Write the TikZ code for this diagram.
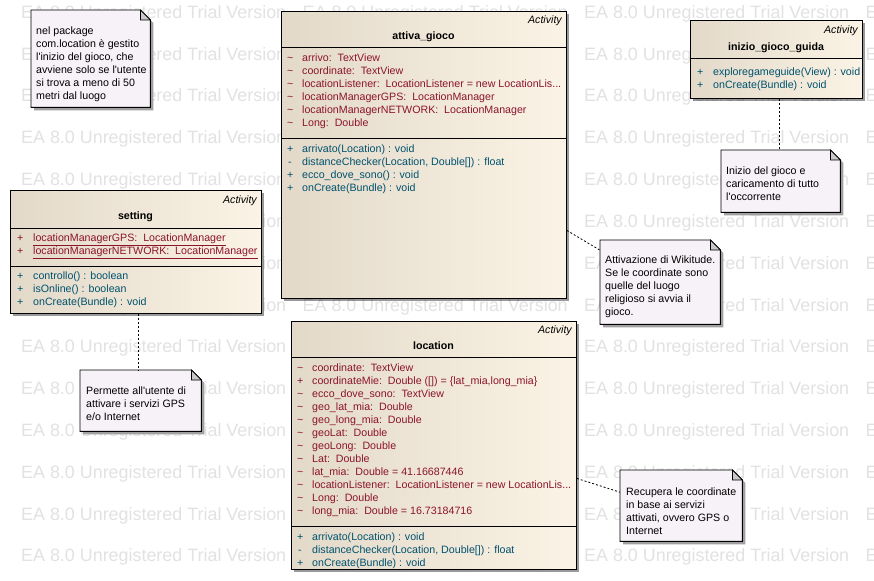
\documentclass[tikz,border=0pt]{standalone}
\usepackage{fontspec}
\newfontfamily\eaf{Liberation Sans}
\newcommand\eafont{\eaf\fontsize{10.65}{13}\selectfont}
\newcommand\wmfont{\eaf\fontsize{17.9}{20}\selectfont}
\usetikzlibrary{shadows}
\definecolor{clsL}{RGB}{226,217,201}
\definecolor{clsR}{RGB}{251,243,229}
\definecolor{attrc}{RGB}{140,20,45}
\definecolor{methc}{RGB}{0,82,110}
\definecolor{notec}{RGB}{247,242,247}
\definecolor{foldc}{RGB}{200,200,200}
\definecolor{shadc}{RGB}{160,160,160}
\definecolor{wmc}{RGB}{226,226,226}
\newcommand\clsline[7]{%
  \node[#2] (#1p) at (#3,#5) {#6};
  \node[#2] (#1) at (#4,#5) {#7};}
\newcommand\drawnote[1]{%
  \fill[shadc] ([shift={(3pt,-3pt)}]#1.north west) -- ([shift={(-7pt,-3pt)}]#1.north east) -- ([shift={(3pt,-13pt)}]#1.north east) -- ([shift={(3pt,-3pt)}]#1.south east) -- ([shift={(3pt,-3pt)}]#1.south west) -- cycle;
  \draw[line width=0.9pt, fill=notec] (#1.north west) -- ([xshift=-10pt]#1.north east) -- ([yshift=-10pt]#1.north east) -- (#1.south east) -- (#1.south west) -- cycle;
  \draw[line width=0.7pt, fill=foldc] ([xshift=-10pt]#1.north east) -- ([yshift=-10pt]#1.north east) -- ([shift={(-10pt,-10pt)}]#1.north east) -- cycle;}
\begin{document}
\begin{tikzpicture}[x=1pt, y=-1pt,
  clsbox/.style={draw=black, line width=0.9pt, left color=clsL, right color=clsR, anchor=north west, inner sep=0, drop shadow={shadow xshift=3pt, shadow yshift=-3pt, fill=black, opacity=0.4}},
  notebg/.style={anchor=north west, inner sep=0},
  notetxt/.style={anchor=north west, inner sep=0, align=left, font=\eafont, text=black},
  attr/.style={inner sep=0, anchor=base west, font=\eafont, text=attrc},
  meth/.style={inner sep=0, anchor=base west, font=\eafont, text=methc},
  stereo/.style={inner sep=0, anchor=base east, font=\eafont\itshape, text=black},
  ttl/.style={inner sep=0, anchor=base, font=\eafont\bfseries, text=black},
  sepline/.style={line width=0.9pt, draw=black},
  conn/.style={line width=0.8pt, dash pattern=on 2pt off 2pt},
  wm/.style={inner sep=0, anchor=base west, font=\wmfont, text=wmc}]
\useasboundingbox (0,0) rectangle (874,580);
\fill[white] (0,0) rectangle (874,580);
\begin{scope}
\clip (0,0) rectangle (874,580);
\foreach \r in {0,...,13}{\foreach \c in {0,...,3}{
  \node[wm] (wm-\r-\c) at ({21+281.5*\c},{18.4+41.8*\r}) {EA 8.0 Unregistered Trial Version};}}
\end{scope}

% ---------- attiva_gioco ----------
\node[clsbox, minimum width=285pt, minimum height=287pt] (attiva) at (281,11) {};
\node[stereo] (attivaS) at (562,23.5) {Activity};
\node[ttl] (attivaT) at (423.5,39.5) {attiva\_gioco};
\draw[sepline] (attiva.west |- 0,47) -- (attiva.east |- 0,47);
\draw[sepline] (attiva.west |- 0,138) -- (attiva.east |- 0,138);
\clsline{aa1}{attr}{287}{302}{61.5}{\textasciitilde}{arrivo:\ \ TextView}
\clsline{aa2}{attr}{287}{302}{74.5}{\textasciitilde}{coordinate:\ \ TextView}
\clsline{aa3}{attr}{287}{302}{87.5}{\textasciitilde}{locationListener:\ \ LocationListener = new LocationLis...}
\clsline{aa4}{attr}{287}{302}{100.5}{\textasciitilde}{locationManagerGPS:\ \ LocationManager}
\clsline{aa5}{attr}{287}{302}{113.5}{\textasciitilde}{locationManagerNETWORK:\ \ LocationManager}
\clsline{aa6}{attr}{287}{302}{126.5}{\textasciitilde}{Long:\ \ Double}
\clsline{am1}{meth}{287}{302}{152.5}{+}{arrivato(Location) : void}
\clsline{am2}{meth}{288}{302}{165.5}{-}{distanceChecker(Location, Double[]) : float}
\clsline{am3}{meth}{287}{302}{178.5}{+}{ecco\_dove\_sono() : void}
\clsline{am4}{meth}{287}{302}{191.5}{+}{onCreate(Bundle) : void}

% ---------- location ----------
\node[clsbox, minimum width=285pt, minimum height=248pt] (loc) at (291,321) {};
\node[stereo] (locS) at (572,333.5) {Activity};
\node[ttl] (locT) at (433.5,349.5) {location};
\draw[sepline] (loc.west |- 0,357) -- (loc.east |- 0,357);
\draw[sepline] (loc.west |- 0,526) -- (loc.east |- 0,526);
\clsline{la1}{attr}{297}{312}{371.5}{\textasciitilde}{coordinate:\ \ TextView}
\clsline{la2}{attr}{297}{312}{384.5}{+}{coordinateMie:\ \ Double ([]) = \{lat\_mia,long\_mia\}}
\clsline{la3}{attr}{297}{312}{397.5}{\textasciitilde}{ecco\_dove\_sono:\ \ TextView}
\clsline{la4}{attr}{297}{312}{410.5}{\textasciitilde}{geo\_lat\_mia:\ \ Double}
\clsline{la5}{attr}{297}{312}{423.5}{\textasciitilde}{geo\_long\_mia:\ \ Double}
\clsline{la6}{attr}{297}{312}{436.5}{\textasciitilde}{geoLat:\ \ Double}
\clsline{la7}{attr}{297}{312}{449.5}{\textasciitilde}{geoLong:\ \ Double}
\clsline{la8}{attr}{297}{312}{462.5}{\textasciitilde}{Lat:\ \ Double}
\clsline{la9}{attr}{297}{312}{475.5}{\textasciitilde}{lat\_mia:\ \ Double = 41.16687446}
\clsline{la10}{attr}{297}{312}{488.5}{\textasciitilde}{locationListener:\ \ LocationListener = new LocationLis...}
\clsline{la11}{attr}{297}{312}{501.5}{\textasciitilde}{Long:\ \ Double}
\clsline{la12}{attr}{297}{312}{514.5}{\textasciitilde}{long\_mia:\ \ Double = 16.73184716}
\clsline{lm1}{meth}{297}{312}{540.5}{+}{arrivato(Location) : void}
\clsline{lm2}{meth}{298}{312}{553.5}{-}{distanceChecker(Location, Double[]) : float}
\clsline{lm3}{meth}{297}{312}{566.5}{+}{onCreate(Bundle) : void}

% ---------- setting ----------
\node[clsbox, minimum width=251pt, minimum height=123pt] (set) at (10,190) {};
\node[stereo] (setS) at (257,203.5) {Activity};
\node[ttl] (setT) at (135.5,219.5) {setting};
\draw[sepline] (set.west |- 0,228) -- (set.east |- 0,228);
\draw[sepline] (set.west |- 0,266) -- (set.east |- 0,266);
\clsline{sa1}{attr}{17}{33}{241.5}{+}{\underline{locationManagerGPS:\ \ LocationManager}}
\clsline{sa2}{attr}{17}{33}{254.5}{+}{\underline{locationManagerNETWORK:\ \ LocationManager}}
\clsline{sm1}{meth}{17}{33}{279.5}{+}{controllo() : boolean}
\clsline{sm2}{meth}{17}{33}{292.5}{+}{isOnline() : boolean}
\clsline{sm3}{meth}{17}{33}{305.5}{+}{onCreate(Bundle) : void}

% ---------- inizio_gioco_guida ----------
\node[clsbox, minimum width=172pt, minimum height=78pt] (ini) at (690,20) {};
\node[stereo] (iniS) at (858,33.5) {Activity};
\node[ttl] (iniT) at (776,50.5) {inizio\_gioco\_guida};
\draw[sepline] (ini.west |- 0,58) -- (ini.east |- 0,58);
\clsline{im1}{meth}{697}{713}{75.5}{+}{exploregameguide(View) : void}
\clsline{im2}{meth}{697}{713}{88.5}{+}{onCreate(Bundle) : void}

% ---------- notes ----------
\node[notebg, minimum width=119pt, minimum height=97pt] (n1) at (31,10) {};
\drawnote{n1}
\node[notetxt] (n1t) at (36,26.5) {\rule{0pt}{8pt}nel package\\com.location è gestito\\l'inizio del gioco, che\\avviene solo se l'utente\\si trova a meno di 50\\metri dal luogo};

\node[notebg, minimum width=120pt, minimum height=84pt] (n2) at (600,240) {};
\drawnote{n2}
\node[notetxt] (n2t) at (605,255.5) {\rule{0pt}{8pt}Attivazione di Wikitude.\\Se le coordinate sono\\quelle del luogo\\religioso si avvia il\\gioco.};

\node[notebg, minimum width=122pt, minimum height=71pt] (n3) at (620,470) {};
\drawnote{n3}
\node[notetxt] (n3t) at (626,487.5) {\rule{0pt}{8pt}Recupera le coordinate\\in base ai servizi\\attivati, ovvero GPS o\\Internet};

\node[notebg, minimum width=121pt, minimum height=61pt] (n4) at (80,370) {};
\drawnote{n4}
\node[notetxt] (n4t) at (86,386.5) {\rule{0pt}{8pt}Permette all'utente di\\attivare i servizi GPS\\e/o Internet};

\node[notebg, minimum width=119pt, minimum height=62pt] (n5) at (721,150) {};
\drawnote{n5}
\node[notetxt] (n5t) at (726,166.5) {\rule{0pt}{8pt}Inizio del gioco e\\caricamento di tutto\\l'occorrente};

% ---------- connectors ----------
\draw[conn] ([xshift=2.5pt]set.south) -- ([xshift=2.5pt]set.south |- n4.north);
\draw[conn] ([xshift=3pt]ini.south) -- ([xshift=3pt]ini.south |- n5.north);
\draw[conn] ([yshift=-75.5pt]attiva.east) -- ([yshift=32pt]n2.west);
\draw[conn] ([yshift=-33pt]loc.east) -- ([yshift=13.5pt]n3.west);
\end{tikzpicture}
\end{document}
